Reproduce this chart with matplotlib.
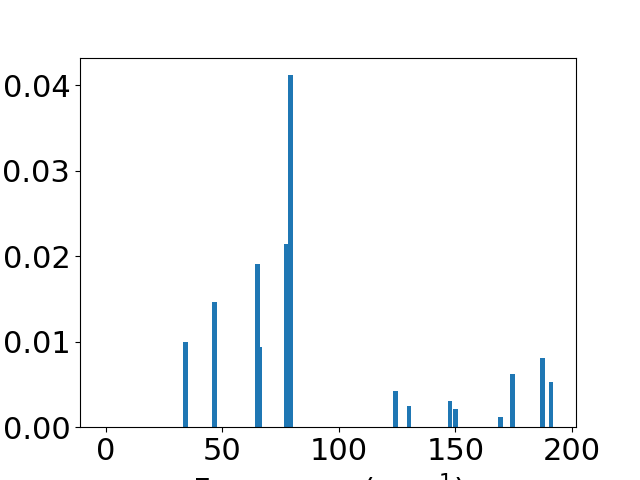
import numpy as np
import matplotlib
matplotlib.use("Agg")
import matplotlib.pyplot as plt

# mode frequencies (cm^-1) and intensities
freqs = [34.3, 46.7, 65.2, 65.9, 77.5, 79.3, 124.4, 130.2,
         147.8, 150.1, 169.4, 174.6, 187.5, 191.1]
intens = [0.0100, 0.0146, 0.0191, 0.0094, 0.0214, 0.0412, 0.0042, 0.0025,
          0.0031, 0.0021, 0.0012, 0.0062, 0.0081, 0.0053]

plt.rcParams.update({
    "font.size": 22,
})

fig, ax = plt.subplots(figsize=(6.4, 4.8), dpi=100)

ax.bar(freqs, intens, width=2.0, color="#1f77b4")

ax.set_xlim(-11.0, 201.8)
ax.set_xticks([0, 50, 100, 150, 200])
ax.set_yticks([0.0, 0.01, 0.02, 0.03, 0.04])
ax.set_xlabel(r"Frequency (cm$^{-1}$)")

plt.savefig("out.png")
